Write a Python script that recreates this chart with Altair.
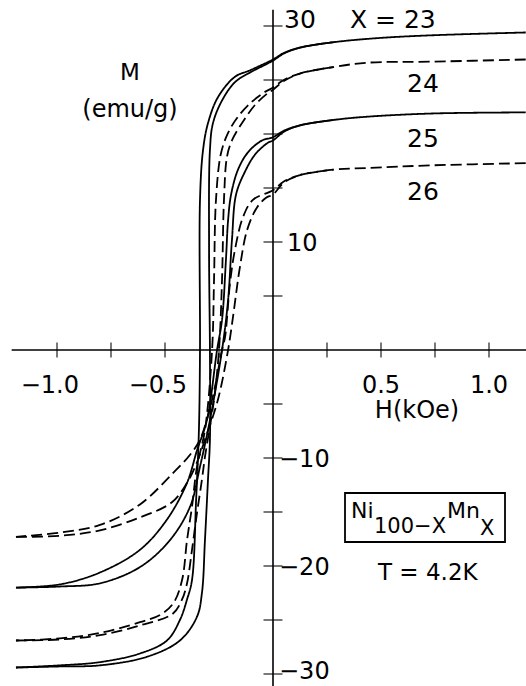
import altair as alt
import pandas as pd

# Frame of the plot: field H (kOe) and magnetisation M (emu/g)
H_MIN, H_MAX = -1.2639, 1.1713
M_MIN, M_MAX = -31.111, 32.407
AXIS_H = [-1.21, H_MAX]
AXIS_M = [M_MIN, 31.5]

H_TICKS = [-1.0, -0.75, -0.5, -0.25, 0.25, 0.5, 0.75, 1.0]
M_TICKS = [-30, -25, -20, -15, -10, -5, 5, 10, 15, 20, 25, 30]
H_LABEL_NEG = [-1.0, -0.5]
H_LABEL_NEG_TEXT = ["\u22121.0", "\u22120.5"]
H_LABEL_POS = [0.5, 1.0]
H_LABEL_POS_TEXT = ["0.5", "1.0"]
M_LABEL_POS = [10]
M_LABEL_POS_TEXT = ["10"]
M_LABEL_NEG = [-10, -20]
M_LABEL_NEG_TEXT = ["\u221210", "\u221220"]

# Hysteresis loops of Ni(100-x)Mn(x) at 4.2 K: descending and ascending branches
H_23_down = [1.17, 0.75, 0.5, 0.28, 0.125, 0.05, 0.0, -0.106, -0.176, -0.255, -0.301,
             -0.324, -0.338, -0.338, -0.343, -0.356, -0.375, -0.398, -0.431, -0.491,
             -0.616, -0.801, -0.986, -1.19]
M_23_down = [29.4, 29.15, 28.9, 28.5, 28.0, 27.5, 26.9, 25.9, 25.3, 23.4, 21.0,
             18.5, 13.9, 0.0, -7.4, -13.9, -21.3, -23.1, -25.0, -26.9,
             -28.1, -28.9, -29.2, -29.4]
H_23_up = [-1.19, -0.986, -0.801, -0.583, -0.431, -0.352, -0.329, -0.315, -0.301, -0.292,
           -0.292, -0.296, -0.292, -0.278, -0.236, -0.176, -0.106, -0.037, 0.0, 0.05,
           0.125, 0.28]
M_23_up = [-29.4, -29.3, -29.2, -28.4, -26.9, -24.7, -22.5, -17.6, -12.0, -8.3,
           0.0, 9.3, 18.5, 21.0, 23.1, 24.8, 25.7, 26.4, 26.8, 27.45,
           28.0, 28.5]

H_24_down = [1.17, 0.74, 0.435, 0.28, 0.125, 0.05, 0.0, -0.037, -0.097, -0.162, -0.208,
             -0.241, -0.264, -0.273, -0.282, -0.315, -0.352, -0.375, -0.398, -0.421,
             -0.46, -0.52, -0.616, -0.801, -0.986, -1.19]
M_24_down = [26.9, 26.7, 26.6, 26.2, 25.6, 25.0, 24.3, 23.9, 23.0, 21.6, 20.1,
             18.2, 13.9, 6.5, 0.0, -7.4, -10.8, -14.5, -17.6, -21.3,
             -23.4, -24.5, -25.2, -26.2, -26.7, -26.9]
H_24_up = [-1.19, -0.986, -0.801, -0.616, -0.463, -0.421, -0.398, -0.375, -0.352, -0.329,
           -0.315, -0.273, -0.250, -0.236, -0.227, -0.213, -0.190, -0.144, -0.083, -0.023,
           0.0, 0.05, 0.125, 0.28]
M_24_up = [-26.9, -26.8, -26.4, -25.5, -24.4, -23.1, -21.6, -18.5, -15.1, -12.0,
           -9.9, -4.6, 0.0, 6.5, 13.9, 17.9, 19.4, 21.0, 22.7, 23.8,
           24.1, 24.9, 25.6, 26.2]

H_25_down = [1.17, 0.74, 0.435, 0.28, 0.125, 0.05, 0.0, -0.051, -0.116, -0.162, -0.194,
             -0.208, -0.218, -0.236, -0.259, -0.306, -0.352, -0.398, -0.491, -0.616,
             -0.801, -0.986, -1.19]
M_25_down = [22.0, 21.9, 21.6, 21.3, 20.8, 20.3, 19.7, 19.4, 18.3, 16.7, 14.4,
             12.0, 8.3, 2.8, 0.0, -6.5, -9.3, -12.3, -15.7, -18.5,
             -20.6, -21.7, -22.0]
H_25_up = [-1.19, -0.986, -0.801, -0.616, -0.477, -0.384, -0.338, -0.292, -0.236, -0.208,
           -0.190, -0.171, -0.130, -0.083, -0.023, 0.0, 0.05, 0.125, 0.28]
M_25_up = [-22.0, -21.9, -21.6, -20.1, -17.6, -14.5, -10.8, -6.5, 0.0, 4.6,
           10.2, 14.4, 16.5, 18.1, 19.2, 19.4, 20.2, 20.8, 21.3]

H_26_down = [1.17, 0.74, 0.435, 0.28, 0.125, 0.05, 0.0, -0.093, -0.139, -0.176, -0.199,
             -0.222, -0.236, -0.282, -0.338, -0.384, -0.463, -0.616, -0.801, -0.986,
             -1.19]
M_26_down = [17.3, 17.1, 16.85, 16.7, 16.2, 15.6, 14.8, 13.9, 12.3, 9.3, 6.2,
             1.2, 0.0, -4.6, -8.3, -9.7, -11.4, -14.3, -16.2, -16.9,
             -17.3]
H_26_up = [-1.19, -0.986, -0.801, -0.616, -0.468, -0.398, -0.352, -0.315, -0.255, -0.208,
           -0.185, -0.153, -0.120, -0.074, -0.032, 0.0, 0.05, 0.125, 0.28]
M_26_up = [-17.3, -17.2, -16.7, -15.5, -14.1, -12.3, -10.4, -8.3, -4.6, 0.0,
           3.1, 7.7, 11.1, 13.2, 14.1, 14.4, 15.5, 16.2, 16.7]

loops = [
    ("23", "solid", H_23_down, M_23_down, H_23_up, M_23_up),
    ("24", "dashed", H_24_down, M_24_down, H_24_up, M_24_up),
    ("25", "solid", H_25_down, M_25_down, H_25_up, M_25_up),
    ("26", "dashed", H_26_down, M_26_down, H_26_up, M_26_up),
]

frames = []
for comp, style, hd, md, hu, mu in loops:
    for branch, hs, ms in (("down", hd, md), ("up", hu, mu)):
        frames.append(pd.DataFrame({
            "H": hs, "M": ms, "style": style,
            "curve": f"{comp}-{branch}", "step": list(range(len(hs))),
        }))
curves = pd.concat(frames, ignore_index=True)

FONT = "DejaVu Sans"
x_scale = alt.Scale(domain=[H_MIN, H_MAX], nice=False, zero=False)
y_scale = alt.Scale(domain=[M_MIN, M_MAX], nice=False, zero=False)
X_ENC = alt.X("H:Q", scale=x_scale, axis=None)
Y_ENC = alt.Y("M:Q", scale=y_scale, axis=None)


def loop_layer(style, dash):
    return alt.Chart(curves[curves["style"] == style]).mark_line(
        color="black", strokeWidth=1.8, interpolate="catmull-rom", strokeDash=dash
    ).encode(x=X_ENC, y=Y_ENC, detail="curve:N", order="step:Q")


solid_loops = loop_layer("solid", [1, 0])
dashed_loops = loop_layer("dashed", [11, 5])

# Axes crossing at the origin
h_axis = alt.Chart(pd.DataFrame({"H": [AXIS_H[0]], "H2": [AXIS_H[1]], "M": [0.0]})).mark_rule(
    color="black", strokeWidth=1.6
).encode(x=X_ENC, x2="H2:Q", y=Y_ENC)
m_axis = alt.Chart(pd.DataFrame({"M": [AXIS_M[0]], "M2": [AXIS_M[1]], "H": [0.0]})).mark_rule(
    color="black", strokeWidth=1.6
).encode(y=Y_ENC, y2="M2:Q", x=X_ENC)

h_ticks = alt.Chart(pd.DataFrame({"H": H_TICKS, "M": [0.0] * len(H_TICKS)})).mark_tick(
    orient="vertical", size=15, thickness=1.5, color="black"
).encode(x=X_ENC, y=Y_ENC)
m_ticks = alt.Chart(pd.DataFrame({"M": M_TICKS, "H": [0.0] * len(M_TICKS)})).mark_tick(
    orient="horizontal", size=19, thickness=1.5, color="black"
).encode(y=Y_ENC, x=X_ENC)

h_lab_neg = alt.Chart(pd.DataFrame({"H": H_LABEL_NEG, "t": H_LABEL_NEG_TEXT})).mark_text(
    font=FONT, fontSize=24, align="right", dx=22, color="black"
).encode(x=X_ENC, y=alt.value(386), text="t:N")
h_lab_pos = alt.Chart(pd.DataFrame({"H": H_LABEL_POS, "t": H_LABEL_POS_TEXT})).mark_text(
    font=FONT, fontSize=24, align="center", color="black"
).encode(x=X_ENC, y=alt.value(386), text="t:N")

m_lab_pos = alt.Chart(pd.DataFrame({"M": M_LABEL_POS, "t": M_LABEL_POS_TEXT})).mark_text(
    font=FONT, fontSize=24, align="left", baseline="alphabetic", dy=9, color="black"
).encode(y=Y_ENC, x=alt.value(287), text="t:N")
m_lab_top = alt.Chart(pd.DataFrame({"M": [30], "t": ["30"]})).mark_text(
    font=FONT, fontSize=25, align="left", baseline="alphabetic", dy=2, color="black"
).encode(y=Y_ENC, x=alt.value(284), text="t:N")
m_lab_neg = alt.Chart(pd.DataFrame({"M": M_LABEL_NEG, "t": M_LABEL_NEG_TEXT})).mark_text(
    font=FONT, fontSize=24, align="left", baseline="alphabetic", dy=9, color="black"
).encode(y=Y_ENC, x=alt.value(279), text="t:N")
m_lab_bottom = alt.Chart(pd.DataFrame({"M": [-30], "t": ["\u221230"]})).mark_text(
    font=FONT, fontSize=24, align="left", baseline="alphabetic", dy=5, color="black"
).encode(y=Y_ENC, x=alt.value(279), text="t:N")


def note(text, x, y, size=24, align="left"):
    return alt.Chart(pd.DataFrame({"t": [text]})).mark_text(
        font=FONT, fontSize=size, align=align, baseline="alphabetic", color="black"
    ).encode(x=alt.value(x), y=alt.value(y), text="t:N")


notes = [
    note("M", 130, 80, 23, "center"),
    note("(emu/g)", 130, 117, 24, "center"),
    note("H(kOe)", 417, 418, 24, "center"),
    note("X = 23", 350, 28, 25),
    note("24", 423, 92, 25, "center"),
    note("25", 423, 147, 25, "center"),
    note("26", 423, 200, 25, "center"),
    note("Ni", 351, 518, 22),
    note("100\u2212X", 374, 533, 21),
    note("Mn", 447, 518, 22),
    note("X", 480, 535, 21),
    note("T = 4.2K", 378, 580, 23),
]

box = alt.Chart(pd.DataFrame({"a": [0]})).mark_rect(
    filled=False, color="black", strokeWidth=1.8
).encode(x=alt.value(345), x2=alt.value(505), y=alt.value(493), y2=alt.value(542))

chart = alt.layer(
    h_axis, m_axis, h_ticks, m_ticks, solid_loops, dashed_loops,
    h_lab_neg, h_lab_pos, m_lab_pos, m_lab_top, m_lab_neg, m_lab_bottom, box, *notes
).properties(
    width=526, height=686, padding=0, autosize="none", background="white"
).configure_view(stroke=None)

chart.save("out.html", embed_options={"renderer": "svg", "actions": False})
